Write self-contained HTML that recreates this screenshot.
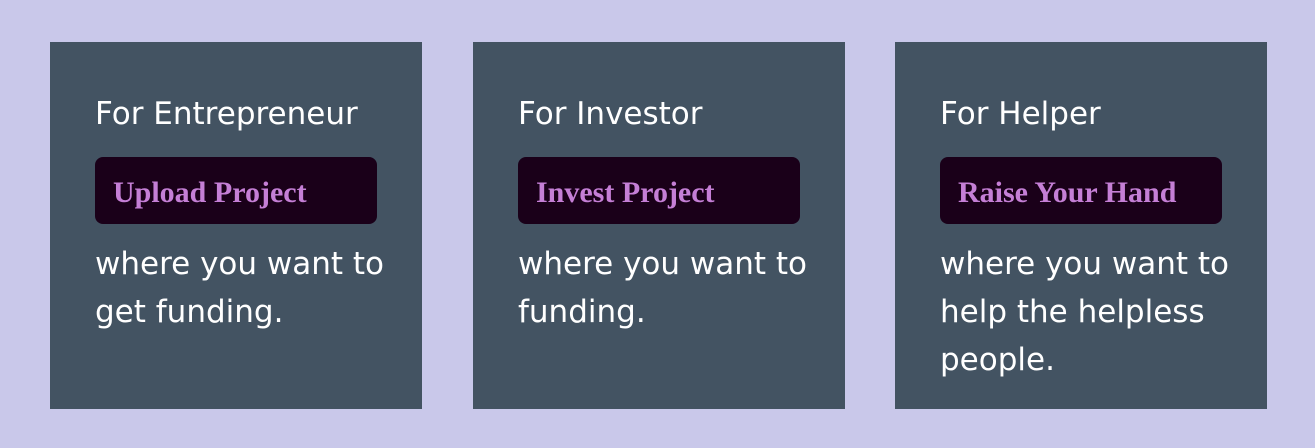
<!DOCTYPE html>
<html><head><meta charset="utf-8"><style>
html,body{margin:0;padding:0;}
body{width:1315px;height:448px;background:#c9c8ea;position:relative;overflow:hidden;font-family:"DejaVu Sans","Liberation Sans",sans-serif;}
.card{position:absolute;top:42px;width:372px;height:367px;background:#435362;}
.title{position:absolute;left:45px;top:52px;margin:0;color:#fff;font-size:31px;line-height:40px;white-space:nowrap;}
.btn{position:absolute;left:45px;top:115px;width:282px;height:67px;background:#1a0019;border-radius:8px;color:#c57fd6;font-family:"Liberation Serif",serif;font-weight:bold;font-size:30px;line-height:71px;padding-left:18px;box-sizing:border-box;white-space:nowrap;}
.desc{position:absolute;left:45px;top:198px;margin:0;color:#fff;font-size:31px;line-height:48px;width:300px;}
</style></head><body>
<div class="card" style="left:50px">
<p class="title">For Entrepreneur</p>
<div class="btn">Upload Project</div>
<p class="desc">where you want to get funding.</p>
</div>
<div class="card" style="left:473px">
<p class="title">For Investor</p>
<div class="btn">Invest Project</div>
<p class="desc">where you want to funding.</p>
</div>
<div class="card" style="left:895px">
<p class="title">For Helper</p>
<div class="btn">Raise Your Hand</div>
<p class="desc">where you want to help the helpless people.</p>
</div>
</body></html>
